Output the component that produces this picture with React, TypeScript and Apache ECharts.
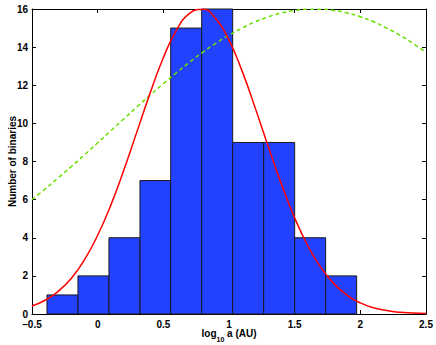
import React, { useEffect, useRef } from 'react';
import * as echarts from 'echarts';

// Histogram bin edges (log10 a, AU) and counts
const binEdges = [-0.386, -0.15, 0.086, 0.322, 0.556, 0.792, 1.028, 1.264, 1.5, 1.736, 1.972];
const counts = [1, 2, 4, 7, 15, 16, 9, 9, 4, 2];

// Sample positions for the two overlaid curves
const curveX = [
  -0.5, -0.4, -0.3, -0.2, -0.1, 0.0, 0.1, 0.2, 0.3, 0.4, 0.5, 0.6, 0.7, 0.8, 0.9, 1.0,
  1.1, 1.2, 1.3, 1.4, 1.5, 1.6, 1.7, 1.8, 1.9, 2.0, 2.1, 2.2, 2.3, 2.4, 2.5,
];
// Red solid curve (fit to this sample)
const fitCurve = [
  0.42, 0.72, 1.19, 1.88, 2.85, 4.13, 5.71, 7.57, 9.58, 11.6, 13.44, 14.89, 15.77, 15.99, 15.49, 14.37,
  12.74, 10.8, 8.76, 6.8, 5.04, 3.58, 2.43, 1.58, 0.98, 0.58, 0.33, 0.18, 0.09, 0.05, 0.02,
];
// Green dashed curve (reference distribution)
const refCurve = [
  6.0, 6.56, 7.14, 7.74, 8.35, 8.98, 9.61, 10.24, 10.87, 11.49, 12.08, 12.66, 13.21, 13.73, 14.2, 14.63,
  15.0, 15.33, 15.59, 15.79, 15.92, 15.99, 15.99, 15.92, 15.79, 15.59, 15.33, 15.0, 14.63, 14.2, 13.73,
];

const FONT = '"Liberation Sans", Arial, Helvetica, sans-serif';

export default function App() {
  const ref = useRef<HTMLDivElement>(null);
  useEffect(() => {
    if (!ref.current) return;
    const chart = echarts.init(ref.current, undefined, { renderer: 'svg' });
    const histData = counts.map((c, i) => [binEdges[i], binEdges[i + 1], c]);
    const fitData = curveX.map((x, i) => [x, fitCurve[i]]);
    const refData = curveX.map((x, i) => [x, refCurve[i]]);
    const labelStyle = { color: '#000', fontFamily: FONT, fontWeight: 'bold' as const, fontSize: 10, lineHeight: 8 };
    const frameLine = { show: true, onZero: false, lineStyle: { color: '#000', width: 1 } };
    const tickIn = { show: true, inside: true, length: 4, lineStyle: { color: '#000', width: 1 } };
    chart.setOption({
      animation: false,
      backgroundColor: '#fff',
      grid: { left: 32, right: 10, top: 9, bottom: 31, containLabel: false, outerBoundsMode: 'none' },
      xAxis: [
        {
          type: 'value', min: -0.5, max: 2.5, interval: 0.5, position: 'bottom',
          axisLine: frameLine, axisTick: tickIn, splitLine: { show: false },
          axisLabel: {
            ...labelStyle, margin: 6,
            formatter: (v: number) => (v < 0 ? '–' + String(-v) : String(v)),
          },
          name: '{a|log}{s|10}{a| a (AU)}',
          nameLocation: 'middle', nameGap: 14, nameMoveOverlap: false,
          nameTextStyle: {
            rich: {
              a: { fontFamily: FONT, fontWeight: 'bold', fontSize: 10, color: '#000', lineHeight: 8, verticalAlign: 'top' },
              s: { fontFamily: FONT, fontWeight: 'bold', fontSize: 7, color: '#000', lineHeight: 8, verticalAlign: 'top', padding: [8, 0, 0, 0] },
            },
          },
        },
        {
          type: 'value', min: -0.5, max: 2.5, interval: 0.5, position: 'top',
          axisLine: frameLine, axisTick: tickIn, axisLabel: { show: false }, splitLine: { show: false },
        },
      ],
      yAxis: [
        {
          type: 'value', min: 0, max: 16, interval: 2, position: 'left',
          axisLine: frameLine, axisTick: tickIn, splitLine: { show: false },
          axisLabel: { ...labelStyle, margin: 4, padding: [0, 0, 2, 0] },
          name: 'Number of binaries', nameLocation: 'middle', nameGap: 15, nameMoveOverlap: false,
          nameTextStyle: { fontFamily: FONT, fontWeight: 'bold', fontSize: 10, color: '#000' },
        },
        {
          type: 'value', min: 0, max: 16, interval: 2, position: 'right',
          axisLine: frameLine, axisTick: tickIn, axisLabel: { show: false }, splitLine: { show: false },
        },
      ],
      series: [
        {
          type: 'custom',
          xAxisIndex: 0, yAxisIndex: 0,
          data: histData,
          encode: { x: [0, 1], y: 2 },
          renderItem: (params: any, api: any) => {
            const p0 = api.coord([api.value(0), api.value(2)]);
            const p1 = api.coord([api.value(1), 0]);
            return {
              type: 'rect',
              shape: { x: p0[0], y: p0[1], width: p1[0] - p0[0], height: p1[1] - p0[1] },
              style: { fill: '#2242FF', stroke: '#1a1a1a', lineWidth: 1 },
            };
          },
          z: 1,
        },
        {
          type: 'line', xAxisIndex: 0, yAxisIndex: 0, data: refData, smooth: true, showSymbol: false,
          lineStyle: { color: '#66E000', width: 1.5, type: [4, 3] }, clip: true, z: 3,
        },
        {
          type: 'line', xAxisIndex: 0, yAxisIndex: 0, data: fitData, smooth: true, showSymbol: false,
          lineStyle: { color: '#FF0000', width: 1.5 }, clip: true, z: 4,
        },
      ],
    });
    return () => chart.dispose();
  }, []);
  return (
    <div
      ref={ref}
      style={{ position: 'fixed', left: 0, top: 0, width: 436, height: 345, background: '#fff' }}
    />
  );
}
